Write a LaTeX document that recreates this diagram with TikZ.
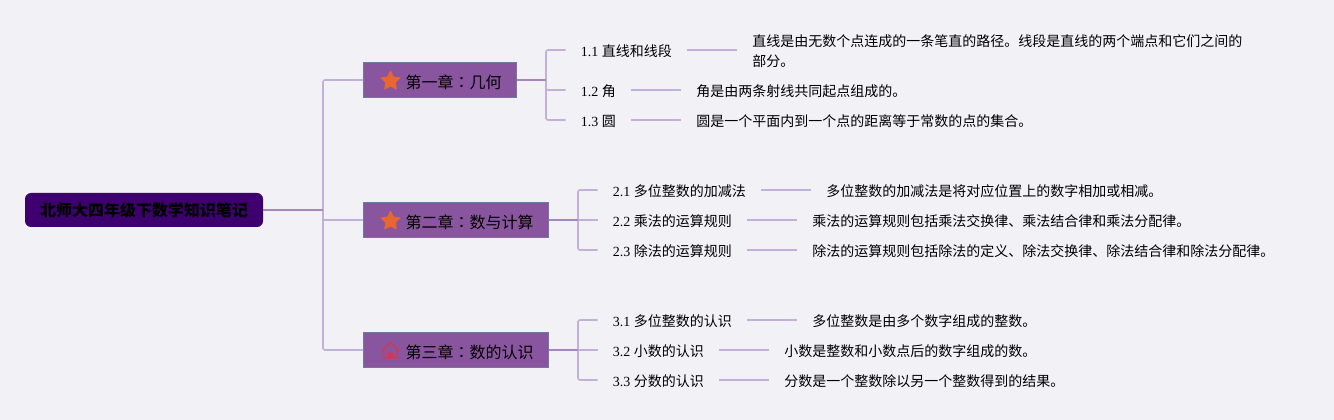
\documentclass[tikz,border=0pt]{standalone}
\usepackage{fontspec}
\setmainfont{Liberation Serif}
\newfontfamily\cjk{Noto Sans CJK SC}
\newfontfamily\cjktc{Noto Sans CJK TC}
\usetikzlibrary{shapes.geometric}
\definecolor{bg}{HTML}{F2F1F6}
\definecolor{rootc}{HTML}{3F006F}
\definecolor{chapc}{HTML}{8A559F}
\definecolor{chapb}{HTML}{6C7A9E}
\definecolor{ln}{HTML}{C2B0D8}
\definecolor{lnd}{HTML}{A586BE}
\definecolor{starc}{HTML}{E8662F}
\definecolor{homec}{HTML}{D9344F}
\tikzset{
 rootbox/.style={fill=rootc,rounded corners=4.5pt,minimum width=178.5pt,minimum height=25.5pt,inner sep=0pt,font=\fontsize{12}{12}\selectfont\cjk\bfseries,text=black},
 chapbox/.style={draw=chapb,line width=0.75pt,fill=chapc,anchor=west,inner xsep=0pt,inner ysep=0pt,text height=19.3pt,text depth=7pt,font=\fontsize{12}{12}\selectfont\cjk,text=black},
 lab/.style={inner sep=0pt,anchor=west,font=\fontsize{10.5}{15}\selectfont,text=black,text height=10pt,text depth=0.4pt},
 desc/.style={lab,font=\fontsize{10.5}{15}\selectfont\cjk},
 desctwo/.style={inner sep=0pt,anchor=west,align=left,font=\fontsize{10.5}{15}\selectfont\cjk,text=black},
 conn/.style={draw=ln,line width=1.2pt,rounded corners=1.5pt},
 connd/.style={draw=lnd,line width=1.2pt},
 gap/.style={shorten <=11.25pt,shorten >=11.25pt},
 gapend/.style={shorten >=11.25pt},
 starmark/.style={star,star points=5,star point ratio=2.0,fill=starc,draw=starc,line join=round,line width=0.6pt,minimum size=15pt,inner sep=0pt},
}
\newcommand{\zh}[1]{{\cjk #1}}
\newcommand{\fw}{{\cjktc ：}}
\newcommand{\chap}[1]{\hspace{31.5pt}#1\hspace{11.25pt}\null}
\begin{document}
\begin{tikzpicture}[x=0.75pt,y=-0.75pt]
\useasboundingbox[fill=bg] (0,0) rectangle (1334,420);
% root
\node[rootbox] (root) at (144,210) {北师大四年级下数学知识笔记};
% chapters
\node[chapbox] (c1) at (363,80) {\chap{第一章\fw 几何}};
\node[chapbox] (c2) at (363,220) {\chap{第二章\fw 数与计算}};
\node[chapbox] (c3) at (363,350) {\chap{第三章\fw 数的认识}};
\node[starmark] (s1) at (390.5,81) {};
\node[starmark] (s2) at (390.5,221) {};
% house
\draw[homec,line width=0.9pt,line join=round] (382,351) -- (390.5,342.5) -- (399,351) (384,349.5) -- (384,358) -- (397,358) -- (397,349.5);
\fill[homec] (387.5,358) -- (387.5,355) arc[start angle=180,end angle=360,radius=3] -- (393.5,358) -- cycle;
% free fork points
\coordinate (f0) at (323,210);
\coordinate (f1) at (546,80);
\coordinate (f2) at (578,220);
\coordinate (f3) at (578,350);
% sub-topic labels
\node[lab] (a11) at (580.6,50) {1.1 \zh{直线和线段}};
\node[lab] (a12) at (580.6,90) {1.2 \zh{角}};
\node[lab] (a13) at (580.6,120) {1.3 \zh{圆}};
\node[lab] (a21) at (612.6,190) {2.1 \zh{多位整数的加减法}};
\node[lab] (a22) at (612.6,220) {2.2 \zh{乘法的运算规则}};
\node[lab] (a23) at (612.6,250) {2.3 \zh{除法的运算规则}};
\node[lab] (a31) at (612.6,320) {3.1 \zh{多位整数的认识}};
\node[lab] (a32) at (612.6,350) {3.2 \zh{小数的认识}};
\node[lab] (a33) at (612.6,380) {3.3 \zh{分数的认识}};
% descriptions
\node[desctwo] (b11) at (752,51.5) {直线是由无数个点连成的一条笔直的路径。线段是直线的两个端点和它们之间的\\部分。};
\node[desc] (b12) at (696,90) {角是由两条射线共同起点组成的。};
\node[desc] (b13) at (696,120) {圆是一个平面内到一个点的距离等于常数的点的集合。};
\node[desc] (b21) at (826,190) {多位整数的加减法是将对应位置上的数字相加或相减。};
\node[desc] (b22) at (812,220) {乘法的运算规则包括乘法交换律、乘法结合律和乘法分配律。};
\node[desc] (b23) at (812,250) {除法的运算规则包括除法的定义、除法交换律、除法结合律和除法分配律。};
\node[desc] (b31) at (812,320) {多位整数是由多个数字组成的整数。};
\node[desc] (b32) at (784,350) {小数是整数和小数点后的数字组成的数。};
\node[desc] (b33) at (784,380) {分数是一个整数除以另一个整数得到的结果。};
% trunk
\draw[conn] (c1.west) -| (f0);
\draw[conn] (c3.west) -| (f0);
\draw[conn] (c2.west) -| (f0);
\draw[connd] (root.east) -- (f0);
% forks
\draw[conn,gapend] (f1) |- (a11.west);
\draw[conn,gapend] (f1) |- (a12.west);
\draw[conn,gapend] (f1) |- (a13.west);
\draw[connd] (c1.east) -- (f1);
\draw[conn,gapend] (f2) |- (a21.west);
\draw[conn,gapend] (f2) -- (a22.west);
\draw[conn,gapend] (f2) |- (a23.west);
\draw[connd] (c2.east) -- (f2);
\draw[conn,gapend] (f3) |- (a31.west);
\draw[conn,gapend] (f3) -- (a32.west);
\draw[conn,gapend] (f3) |- (a33.west);
\draw[connd] (c3.east) -- (f3);
% sub-topic to description
\draw[conn,gap] (a11.east) -- (a11.east -| b11.west);
\draw[conn,gap] (a12.east) -- (b12.west);
\draw[conn,gap] (a13.east) -- (b13.west);
\draw[conn,gap] (a21.east) -- (b21.west);
\draw[conn,gap] (a22.east) -- (b22.west);
\draw[conn,gap] (a23.east) -- (b23.west);
\draw[conn,gap] (a31.east) -- (b31.west);
\draw[conn,gap] (a32.east) -- (b32.west);
\draw[conn,gap] (a33.east) -- (b33.west);
\end{tikzpicture}
\end{document}
